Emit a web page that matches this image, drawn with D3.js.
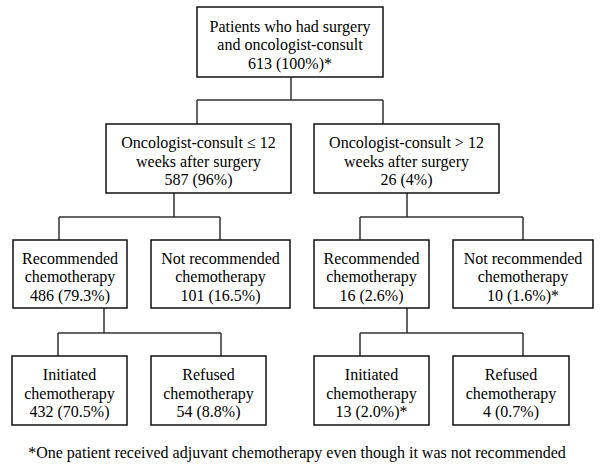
<!DOCTYPE html>
<html>
<head>
<meta charset="utf-8">
<script src="https://cdn.jsdelivr.net/npm/d3@7"></script>
</head>
<body style="margin:0">
<svg id="s" width="600" height="476"></svg>
<script>
// ---- Data ----
const nodeIds    = ["root", "early", "late", "earlyRec", "earlyNot", "lateRec", "lateNot", "earlyInit", "earlyRef", "lateInit", "lateRef"];
const nodeTitles = [
  ["Patients who had surgery", "and oncologist-consult"],
  ["Oncologist-consult \u2264 12", "weeks after surgery"],
  ["Oncologist-consult > 12", "weeks after surgery"],
  ["Recommended", "chemotherapy"],
  ["Not recommended", "chemotherapy"],
  ["Recommended", "chemotherapy"],
  ["Not recommended", "chemotherapy"],
  ["Initiated", "chemotherapy"],
  ["Refused", "chemotherapy"],
  ["Initiated", "chemotherapy"],
  ["Refused", "chemotherapy"]
];
const nodeCounts   = [613, 587, 26, 486, 101, 16, 10, 432, 54, 13, 4];
const nodePercents = ["100%", "96%", "4%", "79.3%", "16.5%", "2.6%", "1.6%", "70.5%", "8.8%", "2.0%", "0.7%"];
const nodeNotes    = ["*", "", "", "", "", "", "*", "", "", "*", ""];
const parents      = [null, "root", "root", "early", "early", "late", "late", "earlyRec", "earlyRec", "lateRec", "lateRec"];
const footnote = "*One patient received adjuvant chemotherapy even though it was not recommended";

// ---- Layout (pixel geometry of the diagram) ----
const boxX0 = [197, 106, 314, 13, 151, 314, 453, 12, 151, 314, 453];
const boxX1 = [383, 291, 499, 127, 290, 429, 593, 127, 266, 429, 569];
const levelTop = [7, 124, 240, 356];
const levelBot = [77, 193, 308, 425];
const nodeLevel = [0, 1, 1, 2, 2, 2, 2, 3, 3, 3, 3];
const stemX  = {root: 291, early: 174, late: 407, earlyRec: 104, lateRec: 407};
const barY   = {root: 100, early: 217, late: 217, earlyRec: 333, lateRec: 333};
const dropX  = [null, 197, 383, 59, 220, 360, 523, 58, 221, 360, 523];

const svg = d3.select("#s");
const lineH = 18.5;

const nodes = nodeIds.map((id, i) => ({
  id, i,
  x0: boxX0[i], x1: boxX1[i],
  y0: levelTop[nodeLevel[i]], y1: levelBot[nodeLevel[i]],
  lines: [...nodeTitles[i], `${nodeCounts[i]} (${nodePercents[i]})${nodeNotes[i]}`],
  parent: parents[i]
}));
const byId = Object.fromEntries(nodes.map(n => [n.id, n]));

const parentIds = [...new Set(parents.filter(p => p))];
parentIds.forEach(pid => {
  const p = byId[pid];
  const kids = nodes.filter(n => n.parent === pid);
  const by = barY[pid];
  const path = d3.path();
  path.moveTo(stemX[pid], p.y1);
  path.lineTo(stemX[pid], by);
  const xs = kids.map(k => dropX[k.i]);
  path.moveTo(d3.min(xs), by);
  path.lineTo(d3.max(xs), by);
  kids.forEach(k => { path.moveTo(dropX[k.i], by); path.lineTo(dropX[k.i], k.y0); });
  svg.append("path").attr("d", path.toString())
    .attr("stroke", "#333").attr("stroke-width", 1.5).attr("fill", "none");
});

nodes.forEach(d => {
  svg.append("rect")
    .attr("x", d.x0).attr("y", d.y0)
    .attr("width", d.x1 - d.x0).attr("height", d.y1 - d.y0)
    .attr("fill", "#fff").attr("stroke", "#111").attr("stroke-width", 1.5);
});

function centeredText(str, cx, baseline) {
  const t = svg.append("text")
    .attr("x", cx).attr("y", baseline)
    .attr("font-family", "'Liberation Serif', monospace")
    .attr("font-size", 16)
    .text(str);
  const w = t.node().getComputedTextLength();
  t.attr("x", cx - w / 2);
}

nodes.forEach(d => {
  const cx = (d.x0 + d.x1) / 2, cy = (d.y0 + d.y1) / 2 + 2.5;
  d.lines.forEach((str, j) => centeredText(str, cx, cy + (j - 1) * lineH + 5.5));
});
centeredText(footnote, 297, 458);
</script>
</body>
</html>
